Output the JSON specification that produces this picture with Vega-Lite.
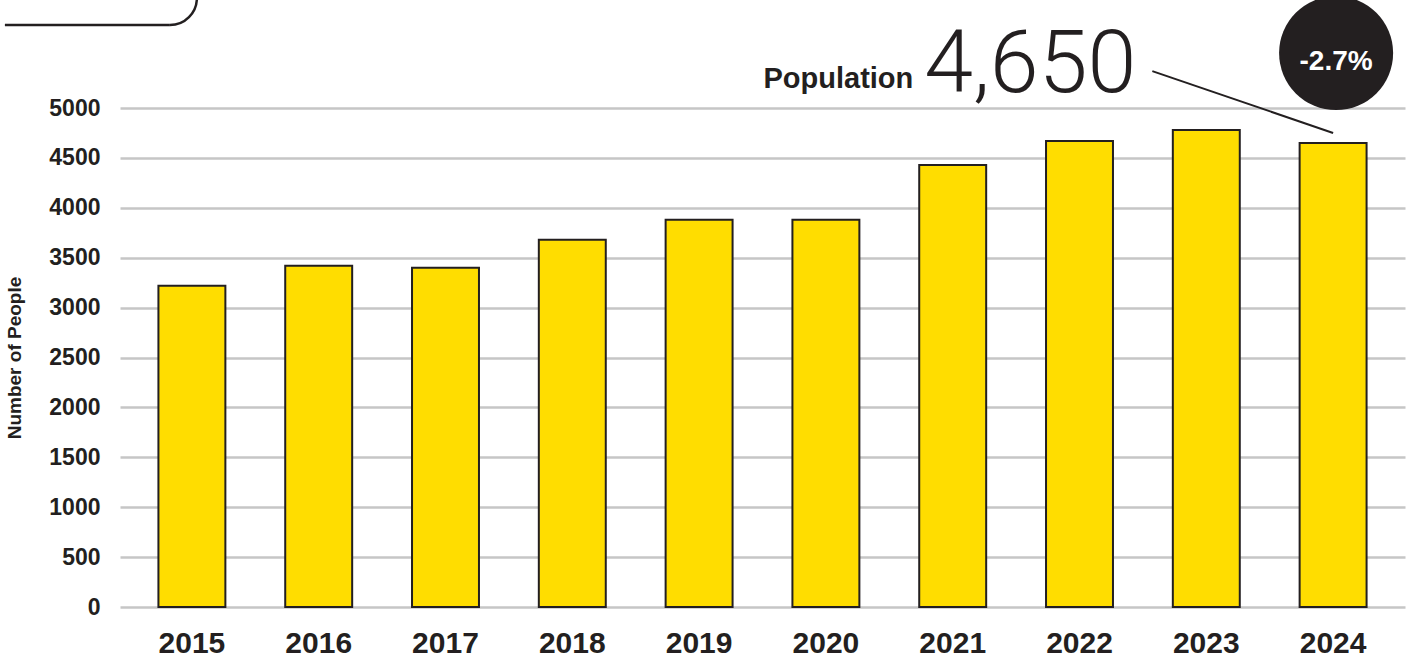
{
  "$schema": "https://vega.github.io/schema/vega-lite/v6.json",
  "width": 1285,
  "height": 499,
  "autosize": "none",
  "padding": {"left": 120, "top": 108, "right": 10, "bottom": 50},
  "background": "white",
  "config": {
    "view": {"stroke": null},
    "font": "Liberation Sans"
  },
  "datasets": {
    "pop": [
      {"year": "2015", "people": 3220},
      {"year": "2016", "people": 3420},
      {"year": "2017", "people": 3400},
      {"year": "2018", "people": 3680},
      {"year": "2019", "people": 3880},
      {"year": "2020", "people": 3880},
      {"year": "2021", "people": 4430},
      {"year": "2022", "people": 4670},
      {"year": "2023", "people": 4780},
      {"year": "2024", "people": 4650}
    ],
    "note": [
      {"year": "2024", "label": "-2.7%", "headline": "4,650", "caption": "Population"}
    ]
  },
  "layer": [
    {
      "data": {"name": "pop"},
      "mark": {"type": "bar", "fill": "#FFDD00", "stroke": "#231f20", "strokeWidth": 2},
      "encoding": {
        "x": {
          "field": "year", "type": "nominal",
          "scale": {"paddingInner": 0.472, "paddingOuter": 0.303},
          "axis": {
            "title": null, "labelAngle": 0, "domain": false, "ticks": false,
            "labelFont": "Liberation Sans", "labelFontWeight": "bold", "labelFontSize": 30,
            "labelColor": "#231f20", "labelPadding": 21
          }
        },
        "y": {
          "field": "people", "type": "quantitative",
          "scale": {"domain": [0, 5000], "nice": false},
          "axis": {
            "title": "Number of People", "titleFontSize": 19, "titleFontWeight": "bold",
            "titleColor": "#231f20", "titlePadding": 24,
            "values": [0, 500, 1000, 1500, 2000, 2500, 3000, 3500, 4000, 4500, 5000],
            "format": "d",
            "domain": false, "ticks": false, "labelPadding": 20,
            "labelFontSize": 23, "labelFontWeight": "bold", "labelColor": "#231f20",
            "grid": true, "gridColor": "#c6c6c6", "gridWidth": 2.5
          }
        }
      }
    },
    {
      "data": {"name": "note"},
      "mark": {"type": "rule", "stroke": "#231f20", "strokeWidth": 2, "xOffset": -54},
      "encoding": {
        "x": {"datum": "2023"},
        "x2": {"datum": "2024"},
        "y": {"datum": 5370},
        "y2": {"datum": 4750}
      }
    },
    {
      "data": {"name": "note"},
      "mark": {"type": "point", "shape": "circle", "filled": true, "fill": "#231f20", "opacity": 1, "size": 13000, "xOffset": 3},
      "encoding": {
        "x": {"field": "year", "type": "nominal"},
        "y": {"datum": 5550}
      }
    },
    {
      "data": {"name": "note"},
      "mark": {"type": "text", "color": "white", "fontSize": 28, "fontWeight": "bold", "align": "center", "baseline": "middle", "dx": 3},
      "encoding": {
        "x": {"field": "year", "type": "nominal"},
        "y": {"datum": 5460},
        "text": {"field": "label"}
      }
    },
    {
      "data": {"name": "note"},
      "mark": {"type": "text", "color": "#231f20", "font": "Roboto", "fontWeight": 300, "fontSize": 88, "align": "right", "baseline": "alphabetic", "dx": -70},
      "encoding": {
        "x": {"datum": "2023"},
        "y": {"datum": 5160},
        "text": {"field": "headline"}
      }
    },
    {
      "data": {"name": "note"},
      "mark": {"type": "text", "color": "#231f20", "fontWeight": "bold", "fontSize": 29, "align": "right", "baseline": "alphabetic", "dx": -293},
      "encoding": {
        "x": {"datum": "2023"},
        "y": {"datum": 5200},
        "text": {"field": "caption"}
      }
    },
    {
      "data": {"name": "note"},
      "mark": {"type": "rule", "stroke": "#231f20", "strokeWidth": 2.5, "xOffset": -187, "x2Offset": -22},
      "encoding": {
        "x": {"datum": "2015"},
        "x2": {"datum": "2015"},
        "y": {"datum": 5832}
      }
    },
    {
      "data": {"name": "note"},
      "mark": {"type": "arc", "fill": null, "stroke": "#231f20", "strokeWidth": 2.5, "innerRadius": 27, "outerRadius": 27, "theta": 1.5708, "theta2": 3.1416, "xOffset": -22},
      "encoding": {
        "x": {"datum": "2015"},
        "y": {"datum": 6102}
      }
    }
  ]
}
